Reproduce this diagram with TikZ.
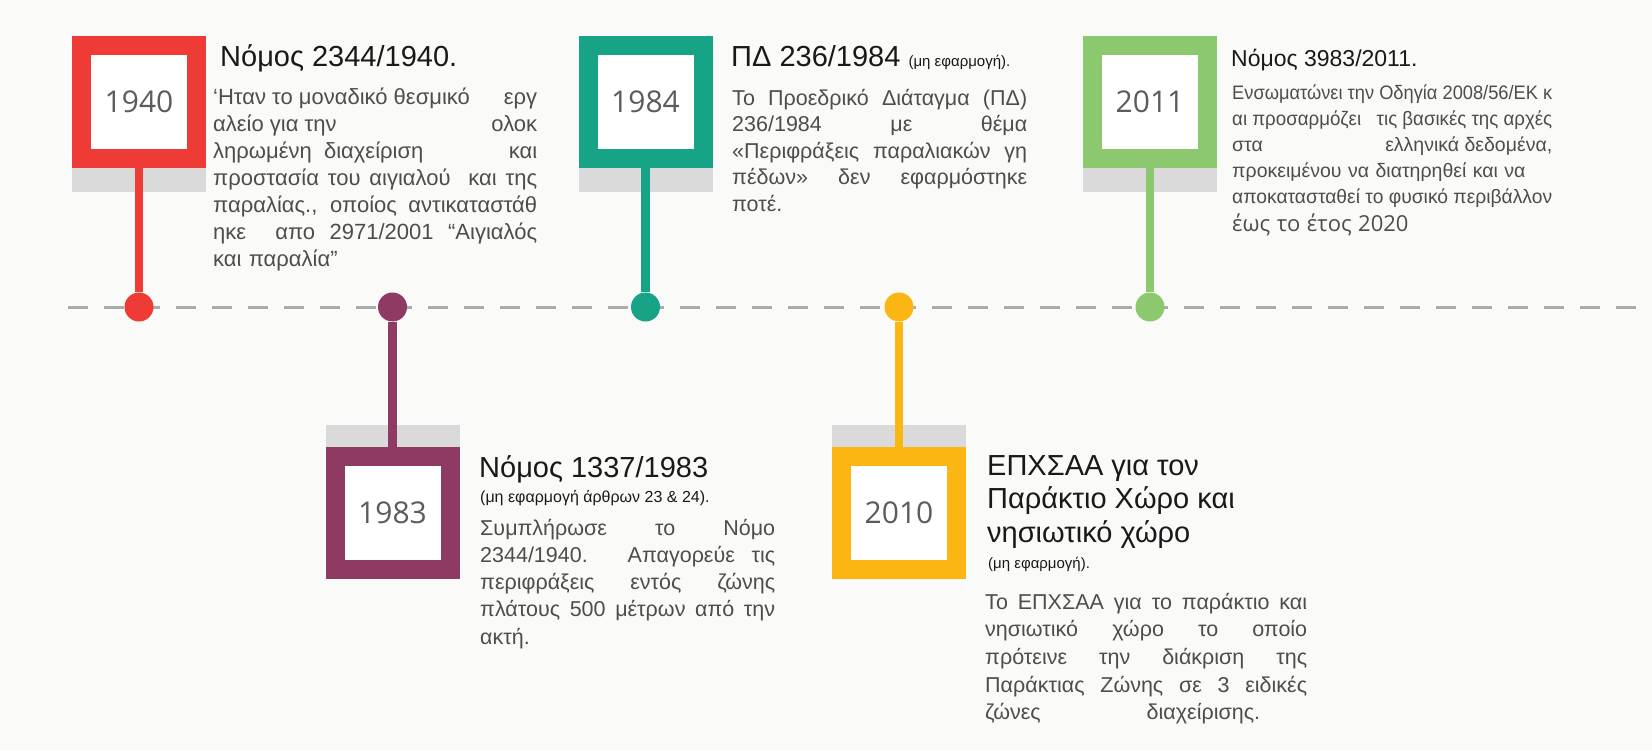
\documentclass[tikz,border=0pt]{standalone}
\usepackage{fontspec}
\usepackage{graphicx}
\setmainfont{Liberation Sans}
\newfontfamily\yearfont{Open Sans}
\usetikzlibrary{positioning}

\definecolor{bgpaper}{HTML}{FAFAF8}
\definecolor{cred}{HTML}{EF3B36}
\definecolor{cplum}{HTML}{8E3A62}
\definecolor{cteal}{HTML}{17A386}
\definecolor{cgold}{HTML}{FBB614}
\definecolor{clime}{HTML}{8CC96E}
\definecolor{cband}{HTML}{DADADA}
\definecolor{cdash}{HTML}{ABABAB}
\definecolor{cyear}{HTML}{5C5C5C}
\definecolor{cbody}{HTML}{4D4D4D}

\tikzset{
	yearbox/.style={rectangle, draw=#1, fill=white, line width=19pt, minimum width=115pt, minimum height=113pt, inner sep=0pt, font=\yearfont\fontsize{30}{30}\selectfont, text=cyear},
	band/.style={rectangle, fill=cband, minimum width=134pt, minimum height=24pt, inner sep=0pt, outer sep=0pt},
	dot/.style={circle, fill=#1, minimum size=29pt, inner sep=0pt},
	stem/.style={draw=#1, line width=8.5pt},
	title/.style={anchor=base west, inner sep=0pt, align=left, text=black!90},
	body/.style={anchor=base west, inner sep=0pt, text width=#1, align=left, text=cbody},
}
% one justified line; squeezed if it is too long
\newsavebox\jlbox
\newcommand{\jl}[1]{\sbox\jlbox{\spaceskip=0pt\xspaceskip=0pt #1}%
	\ifdim\wd\jlbox>\linewidth\resizebox{\linewidth}{\height}{\usebox\jlbox}%
	\else{\spaceskip=0pt\xspaceskip=0pt\makebox[\linewidth][s]{#1}}\fi}

\begin{document}
\begin{tikzpicture}[x=1pt, y=-1pt]
\fill[bgpaper] (0,0) rectangle (1652,750);
\useasboundingbox (0,0) rectangle (1652,750);
\coordinate (ls) at (68,307);
\coordinate (le) at (1652,307);
\draw[cdash, line width=3pt, dash pattern=on 20pt off 16pt] (ls) -- (le);

% 1940
\node (y1940) at (139,102) [yearbox=cred] {1940};
	\node (s1940) [band, below=0pt of y1940] {};
	\node (d1940) at (139,307) [dot=cred] {} edge[stem=cred] (y1940);
	\node (t1940) at (220,66) [title, font=\fontsize{29}{33}\selectfont] {Νόμος 2344/1940.};
	\node (b1940) at (213,104) [body=324pt, font=\fontsize{22}{27}\selectfont] {\jl{‘Ηταν το μοναδικό θεσμικό\hfill εργ}\\
		\jl{αλείο για την\hfill ολοκ}\\
		\jl{ληρωμένη~~διαχείριση\hfill και}\\
		\jl{προστασία του αιγιαλού~~και της}\\
		\jl{παραλίας., οποίος αντικαταστάθ}\\
		\jl{ηκε~~απο 2971/2001 “Αιγιαλός}\\
		και παραλία”};

% 1983
\node (y1983) at (392.5,513) [yearbox=cplum] {1983};
	\node (s1983) [band, above=0pt of y1983, minimum height=22pt] {};
	\node (d1983) at (392.5,307) [dot=cplum] {} edge[stem=cplum] (y1983);
	\node (t1983) at (479,477) [title, font=\fontsize{29}{33}\selectfont] {Νόμος 1337/1983};
	\node (u1983) at (480,502) [title, font=\fontsize{16}{19}\selectfont] {(μη εφαρμογή άρθρων 23 \& 24).};
	\node (b1983) at (480,535) [body=295pt, font=\fontsize{21.5}{27.3}\selectfont] {\jl{Συμπλήρωσε το Νόμο}\\
		\jl{2344/1940. Απαγορεύε τις}\\
		\jl{περιφράξεις εντός ζώνης}\\
		\jl{πλάτους 500 μέτρων από την}\\
		ακτή.};

% 1984
\node (y1984) at (645.5,102) [yearbox=cteal] {1984};
	\node (s1984) [band, below=0pt of y1984] {};
	\node (d1984) at (645.5,307) [dot=cteal] {} edge[stem=cteal] (y1984);
	\node (t1984) at (731,66) [title, font=\fontsize{29}{33}\selectfont] {ΠΔ 236/1984 {\fontsize{15}{18}\selectfont (μη εφαρμογή).}};
	\node (b1984) at (732,105) [body=295pt, font=\fontsize{21.5}{26.5}\selectfont] {\jl{Το Προεδρικό Διάταγμα (ΠΔ)}\\
		\jl{236/1984 με θέμα}\\
		\jl{«Περιφράξεις παραλιακών γη}\\
		\jl{πέδων» δεν εφαρμόστηκε}\\
		ποτέ.};

% 2010
\node (y2010) at (899,513) [yearbox=cgold] {2010};
	\node (s2010) [band, above=0pt of y2010, minimum height=22pt] {};
	\node (d2010) at (899,307) [dot=cgold] {} edge[stem=cgold] (y2010);
	\node (t2010) at (987,542) [title, font=\fontsize{29}{33.5}\selectfont] {ΕΠΧΣΑΑ για τον\\Παράκτιο Χώρο και\\νησιωτικό χώρο};
	\node (u2010) at (988,568) [title, font=\fontsize{15}{18}\selectfont] {(μη εφαρμογή).};
	\node (b2010) at (985,609) [body=322pt, font=\fontsize{21.5}{27.7}\selectfont] {\jl{Το ΕΠΧΣΑΑ για το παράκτιο και}\\
		\jl{νησιωτικό χώρο το οποίο}\\
		\jl{πρότεινε την διάκριση της}\\
		\jl{Παράκτιας Ζώνης σε 3 ειδικές}\\
		ζώνες\hspace{106pt}διαχείρισης.};

% 2011
\node (y2011) at (1150,102) [yearbox=clime] {2011};
	\node (s2011) [band, below=0pt of y2011] {};
	\node (d2011) at (1150,307) [dot=clime] {} edge[stem=clime] (y2011);
	\node (t2011) at (1231,66) [title, font=\fontsize{23}{27}\selectfont] {Νόμος 3983/2011.};
	\node (b2011) at (1232,99) [body=320pt, font=\fontsize{19.5}{26}\selectfont] {\jl{Ενσωματώνει την Οδηγία 2008/56/ΕΚ κ}\\
		\jl{αι προσαρμόζει~~~τις βασικές της αρχές}\\
		\jl{στα\hfill ελληνικά δεδομένα,}\\
		προκειμένου να διατηρηθεί και να\\
		\jl{αποκατασταθεί το φυσικό περιβάλλον}\\[2pt]
		{\yearfont\fontsize{22}{26}\selectfont έως το έτος 2020}};
\end{tikzpicture}
\end{document}
